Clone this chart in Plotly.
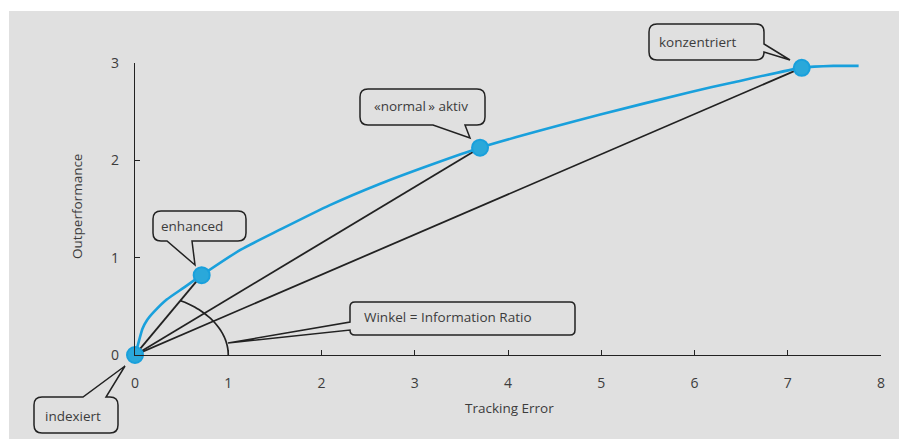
import numpy as np
import plotly.graph_objects as go

# ---- data ----
te_curve = [0, 0.03, 0.08, 0.13, 0.20, 0.34, 0.52, 0.715, 1.13, 1.56, 2.09, 2.63, 3.16, 3.70, 4.99, 5.95, 6.41, 7.15, 7.49, 7.76]
out_curve = [0, 0.10, 0.27, 0.36, 0.44, 0.57, 0.69, 0.82, 1.08, 1.29, 1.54, 1.76, 1.95, 2.13, 2.47, 2.70, 2.80, 2.95, 2.97, 2.97]
portfolio_names = ["indexiert", "enhanced", "«normal\u2009» aktiv", "konzentriert"]
portfolio_te = [0, 0.715, 3.70, 7.15]
portfolio_out = [0, 0.82, 2.13, 2.95]
x_ticks = [0, 1, 2, 3, 4, 5, 6, 7, 8]
y_ticks = [0, 1, 2, 3]
angle_label = "Winkel = Information Ratio"

# ---- layout geometry (page pixels) ----
W, H = 899, 439
P_L, P_R, P_T, P_B = 135, 881, 63, 355   # plot area in page pixels
ML, MT = P_L, P_T
MR = W - P_R
MB = H - P_B
XR, YR = [0, 8], [0, 3]
pw, ph = P_R - P_L, P_B - P_T


def PXp(px):
    return (px - P_L) / pw


def PYp(py):
    return (P_B - py) / ph


BLUE = "#19a0dc"
INK = "#222222"
TXT = "#3c3c3c"
BG = "#e0e0e0"
FONT = "Open Sans"

fig = go.Figure()

# lines from the origin to each portfolio
for i in range(1, len(portfolio_te)):
    fig.add_trace(go.Scatter(x=[portfolio_te[0], portfolio_te[i]], y=[portfolio_out[0], portfolio_out[i]],
                             mode="lines", line=dict(color=INK, width=1.8), cliponaxis=False,
                             hoverinfo="skip", showlegend=False))

# efficient curve
fig.add_trace(go.Scatter(x=te_curve, y=out_curve, mode="lines",
                         line=dict(color=BLUE, width=2.6, shape="spline", smoothing=0.6),
                         cliponaxis=False, showlegend=False))

# portfolio markers
fig.add_trace(go.Scatter(x=portfolio_te, y=portfolio_out, mode="markers",
                         marker=dict(size=16, color="#2aa8da", line=dict(color=BLUE, width=2)),
                         cliponaxis=False, text=portfolio_names, showlegend=False))

shapes = []
# grey background panel
shapes.append(dict(type="rect", xref="paper", yref="paper", layer="below",
                   x0=PXp(9), x1=PXp(W + 5), y0=PYp(H + 5), y1=PYp(11),
                   fillcolor=BG, line=dict(width=0)))

# angle arc (elliptical in data units, as drawn)
slope = portfolio_out[1] / portfolio_te[1]
b = 0.64
t_end = np.arctan2(slope * 1.0, b)
ts = np.linspace(0, t_end, 40)
ax_, ay_ = np.cos(ts), b * np.sin(ts)
arc_path = "M " + " L ".join(f"{xx:.4f},{yy:.4f}" for xx, yy in zip(ax_, ay_))
shapes.append(dict(type="path", xref="x", yref="y", path=arc_path, line=dict(color=INK, width=1.7)))


def bubble(x0, y0, x1, y1, r, side, a, bb, tip):
    tx, ty = tip
    cmds = []

    def M(p):
        cmds.append(("M", [p]))

    def L(p):
        cmds.append(("L", [p]))

    def Q(c, p):
        cmds.append(("Q", [c, p]))

    M((x0 + r, y0))
    if side == "top":
        L((a, y0)); L((tx, ty)); L((bb, y0))
    L((x1 - r, y0)); Q((x1, y0), (x1, y0 + r))
    if side == "right":
        L((x1, a)); L((tx, ty)); L((x1, bb))
    L((x1, y1 - r)); Q((x1, y1), (x1 - r, y1))
    if side == "bottom":
        L((bb, y1)); L((tx, ty)); L((a, y1))
    L((x0 + r, y1)); Q((x0, y1), (x0, y1 - r))
    if side == "left":
        L((x0, bb)); L((tx, ty)); L((x0, a))
    L((x0, y0 + r)); Q((x0, y0), (x0 + r, y0))
    s = ""
    for c, ps in cmds:
        s += c + " " + " ".join(f"{PXp(px):.5f},{PYp(py):.5f}" for px, py in ps) + " "
    return s + "Z"


callouts = [
    # text, box (x0,y0,x1,y1), radius, tail side, tail a, tail b, tip, text x, text y
    (portfolio_names[0], (34, 397, 118, 433), 8, "top", 83, 106, (125, 366), 43, 416),
    (portfolio_names[1], (153, 211, 246, 241), 8, "bottom", 167, 192, (195, 265), 159, 226),
    (portfolio_names[2], (360, 89, 485, 125), 8, "bottom", 433, 465, (470, 138), 372, 106),
    (portfolio_names[3], (649, 24, 764, 60), 8, "right", 44, 52, (790, 60), 657, 42),
    (angle_label, (350, 302, 575, 335), 5, "left", 322, 330, (228, 343), 362, 317),
]

annotations = []
for text, (x0, y0, x1, y1), r, side, a, bb, tip, tx, ty in callouts:
    shapes.append(dict(type="path", xref="paper", yref="paper",
                       path=bubble(x0, y0, x1, y1, r, side, a, bb, tip),
                       line=dict(color=INK, width=1.5), fillcolor="rgba(0,0,0,0)"))
    annotations.append(dict(x=PXp(tx), y=PYp(ty), xref="paper", yref="paper", text=text, showarrow=False,
                            xanchor="left", yanchor="middle",
                            font=dict(family=FONT, size=13.5, color=TXT)))

# axis titles
annotations.append(dict(x=PXp(509), y=PYp(408), xref="paper", yref="paper",
                        text="Tracking Error", showarrow=False, xanchor="center", yanchor="middle",
                        font=dict(family=FONT, size=13.5, color=TXT)))
annotations.append(dict(x=PXp(77), y=PYp(207), xref="paper", yref="paper",
                        text="Outperformance", showarrow=False, textangle=-90,
                        xanchor="center", yanchor="middle",
                        font=dict(family=FONT, size=13.5, color=TXT)))

fig.update_layout(
    width=W, height=H,
    margin=dict(l=ML, r=MR, t=MT, b=MB, pad=0),
    paper_bgcolor="white", plot_bgcolor=BG,
    font=dict(family=FONT, size=13, color=TXT),
    shapes=shapes, annotations=annotations,
    xaxis=dict(range=XR, tickvals=x_ticks, ticktext=[str(v) for v in x_ticks],
               showgrid=False, zeroline=False, showline=True, linecolor=INK, linewidth=1.4,
               ticks="inside", ticklen=5, tickcolor=INK, tickwidth=1.4,
               ticklabelstandoff=15, tickfont=dict(family=FONT, size=14, color=TXT)),
    yaxis=dict(range=YR, tickvals=y_ticks, ticktext=[str(v) for v in y_ticks],
               showgrid=False, zeroline=False, showline=True, linecolor=INK, linewidth=1.4,
               ticks="inside", ticklen=5, tickcolor=INK, tickwidth=1.4,
               ticklabelstandoff=12, tickfont=dict(family=FONT, size=14, color=TXT)),
    showlegend=False,
)

# remove the default page margin so the figure fills the 899x439 window exactly
fig.write_html("out.html", config={"displayModeBar": False},
               post_script="document.body.style.margin='0';document.body.style.overflow='hidden';")
